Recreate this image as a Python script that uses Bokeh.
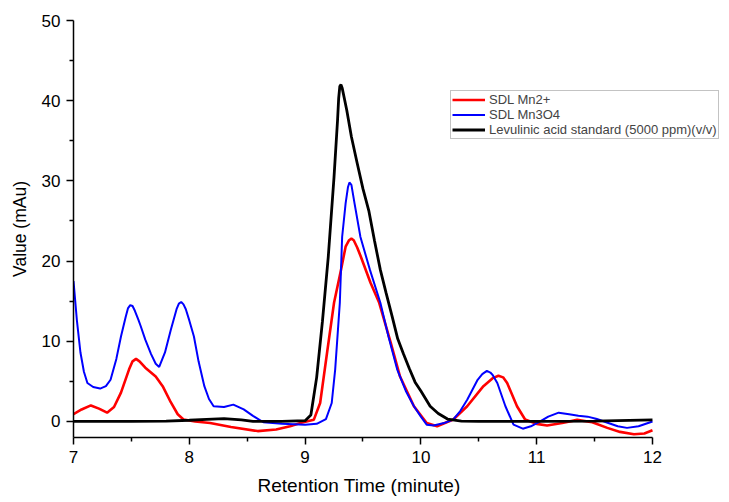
from bokeh.plotting import figure
from bokeh.models import FixedTicker, Range1d, Legend, LegendItem, Title
from bokeh.embed import file_html
from bokeh.resources import INLINE

# ---- data ----
black_x = [7.0, 7.5, 7.8, 8.0, 8.15, 8.3, 8.45, 8.55, 8.8, 9.0, 9.05, 9.1, 9.15, 9.2, 9.25, 9.28,
           9.29, 9.30, 9.31, 9.32, 9.34, 9.36, 9.4, 9.45, 9.5, 9.55, 9.6, 9.65, 9.7, 9.75, 9.8,
           9.85, 9.9, 9.95, 10.0, 10.08, 10.15, 10.23, 10.35, 10.5, 11.0, 11.5, 12.0]
black_y = [0, 0, 0.05, 0.15, 0.25, 0.35, 0.2, 0.0, 0.0, 0.1, 0.8, 5.5, 12.5, 20.5, 30.5, 37.5,
           40.3, 41.8, 42.0, 41.6, 40.2, 38.8, 35.5, 32.2, 29.0, 26.3, 22.5, 18.9, 16.0, 13.2, 10.3,
           8.4, 6.6, 4.9, 3.8, 1.9, 1.0, 0.3, 0.05, 0.0, 0.0, 0.05, 0.2]

blue_x = [7.0, 7.03, 7.06, 7.09, 7.12, 7.17, 7.23, 7.28, 7.32, 7.37, 7.41, 7.45, 7.47, 7.49, 7.51,
          7.53, 7.56, 7.58, 7.62, 7.67, 7.71, 7.74, 7.79, 7.84, 7.89, 7.91, 7.93, 7.95, 7.97, 8.0,
          8.04, 8.08, 8.13, 8.17, 8.21, 8.30, 8.38, 8.47, 8.55, 8.64, 8.8, 9.0, 9.1, 9.18, 9.23,
          9.26, 9.30, 9.32, 9.35, 9.37, 9.383, 9.40, 9.427, 9.478, 9.56, 9.65, 9.72, 9.795, 9.87,
          9.94, 10.0, 10.05, 10.11, 10.2, 10.28, 10.34, 10.40, 10.49, 10.53, 10.57, 10.60, 10.62,
          10.66, 10.73, 10.80, 10.88, 10.95, 11.03, 11.1, 11.19, 11.28, 11.36, 11.44, 11.52, 11.6,
          11.7, 11.78, 11.88, 12.0]
blue_y = [17.5, 12.5, 8.6, 6.2, 4.8, 4.3, 4.1, 4.4, 5.2, 7.8, 10.6, 13.0, 14.1, 14.5, 14.4,
          13.8, 12.7, 11.9, 10.2, 8.4, 7.2, 6.8, 8.6, 11.4, 14.0, 14.7, 14.9, 14.6, 14.0, 12.6,
          10.6, 7.5, 4.4, 2.8, 1.9, 1.8, 2.1, 1.5, 0.7, -0.1, -0.3, -0.4, -0.3, 0.3, 2.3,
          6.5, 14.8, 23.0, 27.2, 29.2, 29.8, 29.5, 27.2, 23.0, 18.9, 14.8, 10.6, 6.5, 3.8,
          1.9, 0.6, -0.4, -0.5, -0.2, 0.25, 1.3, 2.7, 5.2, 5.9, 6.3, 6.1, 5.8,
          4.8, 1.9, -0.4, -0.9, -0.6, 0.0, 0.6, 1.1, 0.9, 0.7, 0.6, 0.3, -0.1,
          -0.6, -0.8, -0.6, 0.0]

red_x = [7.0, 7.07, 7.15, 7.22, 7.29, 7.35, 7.41, 7.48, 7.51, 7.54, 7.57, 7.62, 7.71, 7.77, 7.84,
         7.90, 7.95, 8.05, 8.18, 8.36, 8.59, 8.75, 8.87, 8.96, 9.075, 9.13, 9.19, 9.25, 9.31, 9.35,
         9.38, 9.40, 9.42, 9.45, 9.48, 9.565, 9.64, 9.74, 9.82, 9.94, 10.05, 10.14, 10.28, 10.40,
         10.54, 10.62, 10.67, 10.71, 10.745, 10.83, 10.9, 11.0, 11.09, 11.22, 11.35, 11.48, 11.61,
         11.72, 11.84, 11.93, 12.0]
red_y = [0.9, 1.5, 2.0, 1.6, 1.1, 1.8, 3.6, 6.5, 7.5, 7.8, 7.5, 6.7, 5.6, 4.4, 2.4,
         0.9, 0.25, 0.0, -0.2, -0.7, -1.2, -1.0, -0.6, -0.2, 0.2, 2.3, 8.6, 14.8, 18.9, 21.8,
         22.6, 22.8, 22.6, 21.7, 20.6, 17.3, 14.8, 9.8, 5.6, 1.9, -0.2, -0.6, 0.25, 1.9,
         4.4, 5.4, 5.7, 5.5, 4.8, 1.9, 0.25, -0.3, -0.5, -0.2, 0.2, -0.1, -0.8,
         -1.3, -1.6, -1.5, -1.1]

x_ticks = [7, 8, 9, 10, 11, 12]
x_minor = [7.5, 8.5, 9.5, 10.5, 11.5]
y_ticks = [0, 10, 20, 30, 40, 50]
y_minor = [5, 15, 25, 35, 45]

labels = ["SDL Mn2+", "SDL Mn3O4", "Levulinic acid standard (5000 ppm)(v/v)"]
x_title = "Retention Time (minute)"
y_title = "Value (mAu)"

FONT = "Liberation Sans"

X_MIN, X_MAX = 7, 12
# frame extends a little right of the x axis end so the legend is not clipped
X_VIEW_MAX = 12.622

p = figure(width=724, height=502, output_backend="svg", toolbar_location=None,
           x_range=Range1d(X_MIN, X_VIEW_MAX), y_range=Range1d(-2, 50),
           min_border_left=73, min_border_right=0, min_border_top=20, min_border_bottom=64)
p.outline_line_color = None
p.xgrid.visible = False
p.ygrid.visible = False
p.background_fill_color = "white"

r_red = p.line(red_x, red_y, line_color="#FF0000", line_width=2.6)
r_blue = p.line(blue_x, blue_y, line_color="#0000FF", line_width=2.0)
r_black = p.line(black_x, black_y, line_color="black", line_width=2.8)

for ax in (p.xaxis[0], p.yaxis[0]):
    ax.axis_line_color = "black"
    ax.axis_line_width = 1.5
    ax.major_tick_line_width = 1.5
    ax.minor_tick_line_width = 1.5
    ax.major_tick_out = 7
    ax.major_tick_in = 0
    ax.minor_tick_out = 4
    ax.minor_tick_in = 0
    ax.major_label_text_font = FONT
    ax.major_label_text_font_size = "17px"
    ax.major_label_text_color = "black"
    ax.axis_label_text_font = FONT
    ax.axis_label_text_font_style = "normal"
    ax.axis_label_text_color = "black"

p.xaxis.ticker = FixedTicker(ticks=x_ticks, minor_ticks=x_minor)
p.yaxis.ticker = FixedTicker(ticks=y_ticks, minor_ticks=y_minor)
p.xaxis.bounds = (X_MIN, X_MAX)
p.yaxis.axis_label = y_title
p.yaxis.axis_label_text_font_size = "17.5px"
p.xaxis.major_label_standoff = 6
p.yaxis.major_label_standoff = 6
p.yaxis.axis_label_standoff = 9

# x axis title, centred under the 7..12 axis (not the wider frame)
xt = Title(text=x_title, align="left", offset=184, standoff=14,
           text_font=FONT, text_font_size="19px", text_font_style="normal",
           text_color="black")
p.add_layout(xt, "below")

legend = Legend(items=[LegendItem(label=labels[0], renderers=[r_red]),
                       LegendItem(label=labels[1], renderers=[r_blue]),
                       LegendItem(label=labels[2], renderers=[r_black])],
                location=(377, 298))
legend.label_text_font = FONT
legend.label_text_font_size = "13px"
legend.label_height = 13
legend.glyph_height = 13
legend.glyph_width = 33
legend.label_standoff = 4
legend.spacing = 0
legend.padding = 1
legend.margin = 0
legend.border_line_color = "#888888"
legend.border_line_width = 1
legend.background_fill_alpha = 1
p.add_layout(legend, "center")

open("out.html", "w").write(file_html(p, INLINE))
